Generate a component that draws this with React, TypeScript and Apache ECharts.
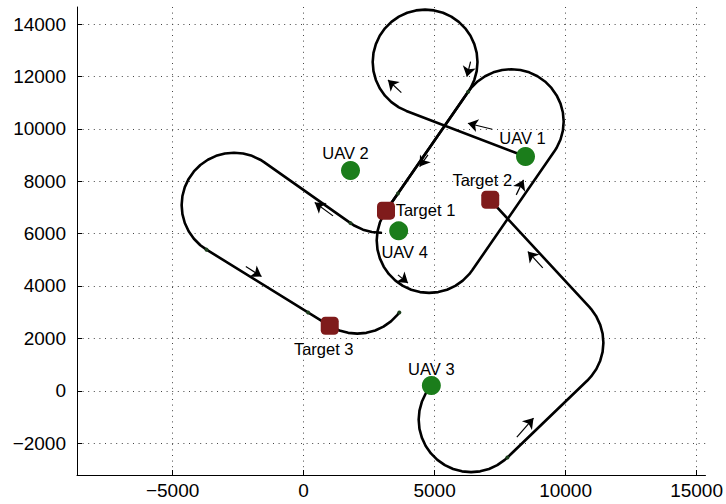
import React, { useEffect, useRef } from 'react';
import * as echarts from 'echarts';

// Axis ticks
const xTicks = [-5000, 0, 5000, 10000, 15000];
const yTicks = [-2000, 0, 2000, 4000, 6000, 8000, 10000, 12000, 14000];

// UAV start positions
const uavNames = ['UAV 1', 'UAV 2', 'UAV 3', 'UAV 4'];
const uavX = [8470, 1790, 4876, 3628];
const uavY = [8940, 8405, 198, 6104];

// Targets
const targetNames = ['Target 1', 'Target 2', 'Target 3'];
const targetX = [3145, 7124, 997];
const targetY = [6874, 7287, 2480];

// Paths (points read along each trajectory)
const pathUav1 = [
  [8470, 8940], [3922, 10683], [3637, 10818], [3351, 11018], [3105, 11264], [2905, 11550],
  [2758, 11866], [2667, 12203], [2637, 12550], [2667, 12897], [2758, 13234], [2905, 13550],
  [3105, 13836], [3351, 14082], [3637, 14282], [3953, 14429], [4290, 14520], [4637, 14550],
  [4984, 14520], [5321, 14429], [5637, 14282], [5923, 14082], [6169, 13836], [6369, 13550],
  [6516, 13234], [6607, 12897], [6637, 12550], [6607, 12203], [6516, 11866], [6369, 11550],
  [6282, 11413], [3145, 6874],
];

const pathLoiter = [
  [3145, 6874], [3058, 6737], [2911, 6421], [2820, 6084], [2790, 5737], [2820, 5390],
  [2911, 5053], [3058, 4737], [3258, 4451], [3504, 4205], [3790, 4005], [4106, 3858],
  [4443, 3767], [4790, 3737], [5137, 3767], [5474, 3858], [5790, 4005], [6076, 4205],
  [6322, 4451], [6435, 4600], [9572, 9139], [9659, 9276], [9806, 9592], [9897, 9929],
  [9927, 10276], [9897, 10623], [9806, 10960], [9659, 11276], [9459, 11562], [9213, 11808],
  [8927, 12008], [8611, 12155], [8274, 12246], [7927, 12276], [7580, 12246], [7243, 12155],
  [6927, 12008], [6641, 11808], [6395, 11562], [6282, 11413], [3145, 6874],
];

const pathUav4 = [
  [2950, 6030], [2603, 6060], [2266, 6151], [1950, 6298], [1792, 6399], [-1498, 8719],
  [-1656, 8820], [-1972, 8967], [-2309, 9058], [-2656, 9088], [-3003, 9058], [-3340, 8967],
  [-3656, 8820], [-3942, 8620], [-4188, 8374], [-4388, 8088], [-4535, 7772], [-4626, 7435],
  [-4656, 7088], [-4626, 6741], [-4535, 6404], [-4388, 6088], [-4188, 5802], [-3942, 5556],
  [-3706, 5387], [997, 2480], [1048, 2449], [1364, 2302], [1701, 2211], [2048, 2181],
  [2395, 2211], [2732, 2302], [3048, 2449], [3334, 2649], [3580, 2895], [3652, 2986],
];

const pathUav3 = [
  [4876, 198], [4660, -106], [4513, -422], [4422, -759], [4392, -1106], [4422, -1453],
  [4513, -1790], [4660, -2106], [4860, -2392], [5106, -2638], [5392, -2838], [5708, -2985],
  [6045, -3076], [6392, -3106], [6739, -3076], [7076, -2985], [7392, -2838], [7678, -2638],
  [7779, -2547], [10830, 390], [10975, 545], [11175, 831], [11322, 1147], [11413, 1484],
  [11443, 1831], [11413, 2178], [11322, 2515], [11175, 2831], [10975, 3117], [10912, 3189],
  [7124, 7287],
];

// Segment junction points
const junctions = [
  [1792, 6399], [-3706, 5387], [170, 2991], [3652, 2986], [6282, 11413], [3601, 7534], [7779, -2547],
];

// Direction arrows: [x1, y1, x2, y2] (tail -> head)
const arrows = [
  [7201, 9984, 6270, 10213],
  [3731, 11380, 3220, 11865],
  [6373, 12563, 6232, 11991],
  [4745, 9003, 4429, 8557],
  [8116, 7478, 8394, 8050],
  [9130, 4692, 8558, 5314],
  [8139, -1767, 8776, -1042],
  [1123, 6676, 425, 7184],
  [-2206, 4742, -1607, 4361],
  [3601, 4425, 3983, 4109],
];

export default function App() {
  const ref = useRef<HTMLDivElement>(null);
  useEffect(() => {
    if (!ref.current) return;
    const chart = echarts.init(ref.current, null, { renderer: 'svg' });
    const font = '"Liberation Sans", Arial, Helvetica, sans-serif';
    const fmt = (v: number) => String(v).replace('-', '\u2212');
    const pathStyle = { color: '#000', width: 2.6, cap: 'round', join: 'round' };
    const pathSeries = (name: string, data: number[][]) => ({
      type: 'line', name, data, showSymbol: false, symbol: 'none',
      lineStyle: pathStyle, z: 2, silent: true,
    });
    const uavOffsets = [[-3, -19], [-5, -17.5], [0, -16.5], [6, 21.5]];
    const targetOffsets = [[39.5, -1], [-8, -20], [-6, 23]];
    const labelStyle = { fontSize: 16.5, color: '#000', fontFamily: font };
    const gridLine = { show: true, lineStyle: { type: [1, 4.6], color: '#444', width: 1 } };

    chart.setOption({
      animation: false,
      backgroundColor: '#fff',
      grid: { left: 77, right: 20, top: 7, bottom: 29, containLabel: false },
      xAxis: {
        type: 'value', min: -8650, max: 15340,
        axisLine: { show: true, onZero: false, lineStyle: { color: '#000', width: 1 } },
        axisTick: { show: true, inside: true, length: 5, customValues: xTicks, lineStyle: { color: '#000' } },
        axisLabel: { customValues: xTicks, formatter: fmt, fontSize: 19, color: '#000', fontFamily: font, margin: 6 },
        splitLine: gridLine,
      },
      yAxis: {
        type: 'value', min: -3216, max: 14650,
        axisLine: { show: true, onZero: false, lineStyle: { color: '#000', width: 1 } },
        axisTick: { show: true, inside: true, length: 5, customValues: yTicks, lineStyle: { color: '#000' } },
        axisLabel: { customValues: yTicks, formatter: fmt, fontSize: 19, color: '#000', fontFamily: font, margin: 11 },
        splitLine: gridLine,
      },
      series: [
        pathSeries('UAV 1 path', pathUav1),
        pathSeries('Loiter path', pathLoiter),
        pathSeries('UAV 4 path', pathUav4),
        pathSeries('UAV 3 path', pathUav3),
        {
          type: 'lines', coordinateSystem: 'cartesian2d', z: 3, silent: true,
          symbol: ['none', 'arrow'], symbolSize: 10,
          lineStyle: { color: '#000', width: 1.2, opacity: 1, curveness: 0 },
          itemStyle: { color: '#000', opacity: 1 },
          data: arrows.map((a) => ({ coords: [[a[0], a[1]], [a[2], a[3]]] })),
        },
        {
          type: 'scatter', z: 4, silent: true, symbol: 'circle', symbolSize: 4,
          itemStyle: { color: '#1c3d1c', opacity: 1 },
          data: junctions,
        },
        {
          type: 'scatter', z: 5, silent: true, symbol: 'roundRect', symbolSize: 18,
          itemStyle: { color: '#7f1b1b', opacity: 1 },
          data: targetNames.map((n, i) => ({
            name: n, value: [targetX[i], targetY[i]],
            label: { show: true, position: 'inside', formatter: n, offset: targetOffsets[i], ...labelStyle },
          })),
        },
        {
          type: 'scatter', z: 5, silent: true, symbol: 'circle', symbolSize: 19,
          itemStyle: { color: '#1b7d1b', opacity: 1 },
          data: uavNames.map((n, i) => ({
            name: n, value: [uavX[i], uavY[i]],
            label: { show: true, position: 'inside', formatter: n, offset: uavOffsets[i], ...labelStyle },
          })),
        },
      ],
    });
    return () => chart.dispose();
  }, []);
  return (
    <div
      ref={ref}
      style={{ position: 'absolute', left: 0, top: 0, width: 726, height: 504, background: '#fff' }}
    />
  );
}
